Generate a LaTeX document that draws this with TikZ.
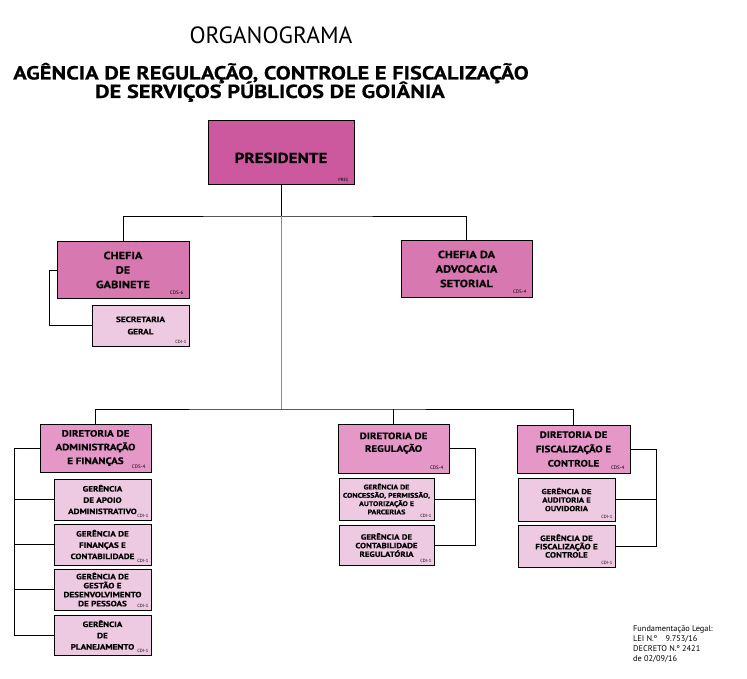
\documentclass[tikz,border=0pt]{standalone}
\usepackage{fontspec}
\setmainfont{PT Sans}[BoldFeatures={FakeStretch=1.18,FakeBold=0.3}]

\definecolor{presfill}{RGB}{204,88,158}
\definecolor{cheffill}{RGB}{215,121,176}
\definecolor{dirfill}{RGB}{229,152,200}
\definecolor{gerfill}{RGB}{238,201,226}

\tikzset{
	caixa/.style={draw=black, line width=1pt, rectangle, inner sep=1pt, align=center},
	presbox/.style={caixa, fill=presfill, minimum width=146pt, minimum height=64pt,
		font=\bfseries\fontsize{14.5}{16}\selectfont, text height=20pt, text depth=0pt},
	chefbox/.style={caixa, fill=cheffill, minimum width=132pt, minimum height=56pt,
		font=\bfseries\fontsize{10.5}{14.5}\selectfont},
	dirbox/.style={caixa, fill=dirfill, minimum width=111pt, minimum height=48pt,
		font=\bfseries\fontsize{9.3}{13.7}\selectfont},
	gerbox/.style={caixa, fill=gerfill, minimum width=97pt, minimum height=41pt,
		font=\bfseries\fontsize{7.7}{11.3}\selectfont},
	cargo/.style={inner sep=0pt, anchor=south east, font=\fontsize{4.5}{5}\selectfont},
	liga/.style={line width=0.9pt}
}

\begin{document}
\begin{tikzpicture}[x=1pt,y=-1pt]
	\useasboundingbox (0,0) rectangle (747,679);
	% titulo
	\node [anchor=base, font=\fontsize{23.5}{26}\selectfont] (tit) at (271,44) {ORGANOGRAMA};
	\node [anchor=base, font=\bfseries\fontsize{19}{17}\selectfont] (tit1) at (271,79.5) {AGÊNCIA DE REGULAÇÃO, CONTROLE E FISCALIZAÇÃO};
	\node [anchor=base, font=\bfseries\fontsize{19}{17}\selectfont] (tit2) at (270,98) {DE SERVIÇOS PÚBLICOS DE GOIÂNIA};
	% presidencia e chefias
	\node [presbox] (pres) at (281,153) {PRESIDENTE};
	\node [chefbox] (gab) at (123,270) {CHEFIA\\DE\\GABINETE};
	\node [chefbox, minimum width=131pt] (adv) at (466.5,269) {CHEFIA DA\\ADVOCACIA\\SETORIAL};
	\node [gerbox, font=\bfseries\fontsize{7.8}{12.3}\selectfont] (sec) at (140.5,325.5) {SECRETARIA\\GERAL};
	% diretorias
	\node [dirbox] (dadm) at (95.5,448) {DIRETORIA DE\\ADMINISTRAÇÃO\\E FINANÇAS};
	\node [dirbox, minimum height=49pt, font=\bfseries\fontsize{9.3}{12.7}\selectfont] (dreg) at (393.5,448.5) {DIRETORIA DE\\REGULAÇÃO\\\phantom{X}};
	\node [dirbox, minimum width=113pt, font=\bfseries\fontsize{9.3}{14.3}\selectfont] (dfisc) at (573.5,449) {DIRETORIA DE\\FISCALIZAÇÃO E\\CONTROLE};
	% gerencias
	\node [gerbox] (ga1) at (102.5,499.5) {GERÊNCIA\\DE APOIO\\ADMINISTRATIVO};
	\node [gerbox] (ga2) at (102.5,544.5) {GERÊNCIA DE\\FINANÇAS E\\CONTABILIDADE};
	\node [gerbox, font=\bfseries\fontsize{7.7}{9}\selectfont] (ga3) at (102.5,589.5) {GERÊNCIA DE\\GESTÃO E\\DESENVOLVIMENTO\\DE PESSOAS};
	\node [gerbox, minimum height=40pt] (ga4) at (102.5,635) {GERÊNCIA\\DE\\PLANEJAMENTO};
	\node [gerbox, minimum width=95pt, minimum height=42pt, font=\bfseries\fontsize{6.7}{8.3}\selectfont] (gr1) at (386.5,499) {GERÊNCIA DE\\CONCESSÃO, PERMISSÃO,\\AUTORIZAÇÃO E\\PARCERIAS};
	\node [gerbox, minimum width=95pt, minimum height=40pt, font=\bfseries\fontsize{7.5}{8.6}\selectfont] (gr2) at (386.5,545) {GERÊNCIA DE\\CONTABILIDADE\\REGULATÓRIA};
	\node [gerbox, minimum height=43pt, font=\bfseries\fontsize{7.3}{8.5}\selectfont] (gf1) at (566.5,499.5) {GERÊNCIA DE\\AUDITORIA E\\OUVIDORIA};
	\node [gerbox, minimum height=42pt, font=\bfseries\fontsize{7.7}{8.3}\selectfont] (gf2) at (566.5,546) {GERÊNCIA DE\\FISCALIZAÇÃO E\\CONTROLE};
	% simbolos dos cargos
	\node [cargo] (pres-c) at ([xshift=-6pt,yshift=4pt]pres.south east) {PRES};
	\foreach \n/\c in {gab/CDS-6,adv/CDS-4,dadm/CDS-4,dreg/CDS-4,dfisc/CDS-4}
	\node [cargo, font=\fontsize{5}{6}\selectfont] (\n-c) at ([xshift=-6pt,yshift=4pt]\n.south east) {\c};
	\foreach \n in {sec,ga1,ga2,ga3,ga4,gr1,gr2,gf1,gf2}
	\node [cargo] (\n-c) at ([xshift=-3pt,yshift=2.5pt]\n.south east) {CDI-1};
	% ligacoes
	\coordinate (j1) at (281,216);
	\coordinate (j2) at (281,409);
	\draw [liga] (pres) -- (j1);
	\draw [liga] (gab) |- (j1) -| (adv);
	\draw [liga, black!45] (j1) -- (j2);
	\draw [liga] (dadm) |- (j2) -| (dfisc);
	\draw [liga] (dreg) -- (dreg |- j2);
	\coordinate (gabbus) at (49,270);
	\draw [liga] (gab.west) -- (gabbus) |- (sec);
	\coordinate (admbus) at (14,448);
	\draw [liga] (dadm.west) -- (admbus) |- (ga4);
	\foreach \g in {ga1,ga2,ga3}
	\draw [liga] (admbus |- \g.west) -- (\g);
	\coordinate (regbus) at (475,448.5);
	\draw [liga] (dreg.east) -- (regbus) |- (gr2);
	\draw [liga] (regbus |- gr1.east) -- (gr1);
	\coordinate (fiscbus) at (656,449);
	\draw [liga] (dfisc.east) -- (fiscbus) |- (gf2);
	\draw [liga] (fiscbus |- gf1.east) -- (gf1);
	% rodape
	\node [anchor=north west, align=left, inner sep=0pt, font=\fontsize{8.3}{10}\selectfont] (fund) at (633,625) {Fundamentação Legal:\\LEI N.º\quad 9.753/16\\DECRETO N.º 2421\\de 02/09/16};
\end{tikzpicture}
\end{document}
